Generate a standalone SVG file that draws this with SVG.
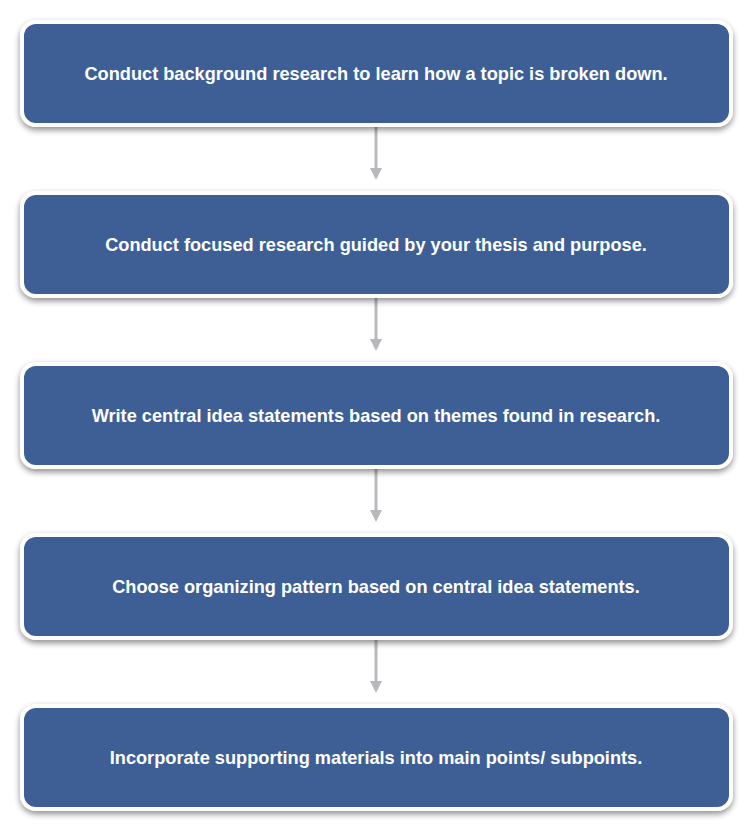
<svg xmlns="http://www.w3.org/2000/svg" width="753" height="830" viewBox="0 0 753 830">
<style>
.box{fill:#3d5f96;stroke:#fff;stroke-width:4}
.lbl{font-family:"Liberation Sans",Arial,sans-serif;font-weight:bold;font-size:18.2px;fill:#fff;text-anchor:middle}
.con{stroke:#b9b9bd;stroke-width:3;fill:none}
</style>
<defs>
<filter id="sh" x="-5%" y="-20%" width="110%" height="140%">
<feGaussianBlur in="SourceAlpha" stdDeviation="3"/>
<feOffset dx="0" dy="3"/>
<feComponentTransfer><feFuncA type="linear" slope="0.45"/></feComponentTransfer>
<feMerge><feMergeNode/><feMergeNode in="SourceGraphic"/></feMerge>
</filter>
<marker id="ah" markerWidth="4" markerHeight="4" refX="2" refY="2" orient="auto" markerUnits="strokeWidth">
<path d="M0,0 L4,2 L0,4 z" fill="#b9b9bd"/>
</marker>
</defs>
<g id="connectors">
<line class="con" x1="376" y1="127" x2="376" y2="174" marker-end="url(#ah)"/>
<line class="con" x1="376" y1="298" x2="376" y2="345" marker-end="url(#ah)"/>
<line class="con" x1="376" y1="469" x2="376" y2="516" marker-end="url(#ah)"/>
<line class="con" x1="376" y1="640" x2="376" y2="687" marker-end="url(#ah)"/>
</g>
<g id="n1"><rect class="box" x="22" y="22" width="709" height="103" rx="14" filter="url(#sh)"/><text class="lbl" x="376" y="80">Conduct background research to learn how a topic is broken down.</text></g>
<g id="n2"><rect class="box" x="22" y="193" width="709" height="103" rx="14" filter="url(#sh)"/><text class="lbl" x="376" y="251">Conduct focused research guided by your thesis and purpose.</text></g>
<g id="n3"><rect class="box" x="22" y="364" width="709" height="103" rx="14" filter="url(#sh)"/><text class="lbl" x="376" y="422">Write central idea statements based on themes found in research.</text></g>
<g id="n4"><rect class="box" x="22" y="535" width="709" height="103" rx="14" filter="url(#sh)"/><text class="lbl" x="376" y="593">Choose organizing pattern based on central idea statements.</text></g>
<g id="n5"><rect class="box" x="22" y="706" width="709" height="103" rx="14" filter="url(#sh)"/><text class="lbl" x="376" y="764">Incorporate supporting materials into main points/ subpoints.</text></g>
</svg>
